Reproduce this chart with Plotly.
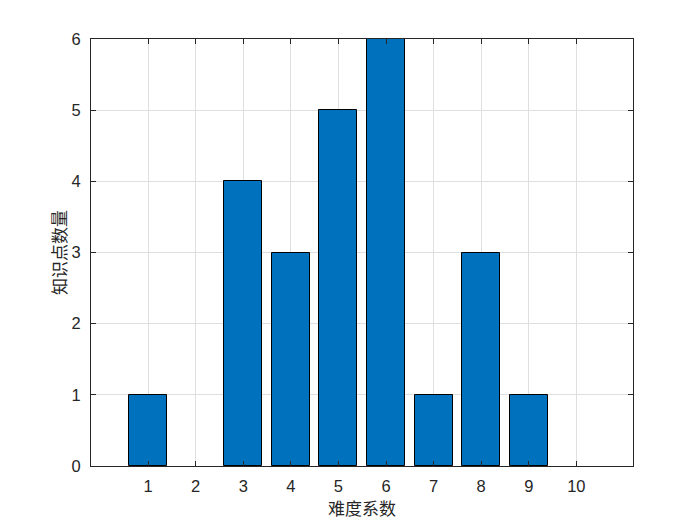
import plotly.graph_objects as go

difficulty = [1, 2, 3, 4, 5, 6, 7, 8, 9, 10]
counts = [1, 0, 4, 3, 5, 6, 1, 3, 1, 0]
x_ticks = [1, 2, 3, 4, 5, 6, 7, 8, 9, 10]
y_ticks = [0, 1, 2, 3, 4, 5, 6]

fig = go.Figure()
fig.add_trace(go.Bar(
    x=difficulty, y=counts, width=0.8,
    marker=dict(color="#0072BD",
                line=dict(color="#000000", width=[1 if c > 0 else 0 for c in counts])),
))

axis_common = dict(
    showline=True, mirror="ticks", linecolor="#262626", linewidth=1,
    ticks="inside", ticklen=5, tickcolor="#262626",
    showgrid=True, gridcolor="#DFDFDF", gridwidth=1, zeroline=False,
    tickfont=dict(family="Liberation Sans, Arial", size=16.5, color="#262626"),
)

fig.update_xaxes(
    range=[-0.2, 11.19], tickmode="array", tickvals=x_ticks,
    ticktext=[str(v) for v in x_ticks], ticklabelstandoff=5,
    title=dict(text="难度系数", font=dict(family="Noto Sans CJK SC", size=17, color="#262626"), standoff=4),
    **axis_common,
)
fig.update_yaxes(
    range=[0, 6], tickmode="array", tickvals=y_ticks, ticklabelstandoff=6,
    title=dict(text="知识点数量", font=dict(family="Noto Sans CJK SC", size=17, color="#262626"), standoff=0),
    **axis_common,
)

fig.update_layout(
    width=700, height=525,
    margin=dict(l=83, r=75, t=31, b=67, autoexpand=False),
    plot_bgcolor="white", paper_bgcolor="white",
    showlegend=False, bargap=0,
)

fig.write_html("out.html")
